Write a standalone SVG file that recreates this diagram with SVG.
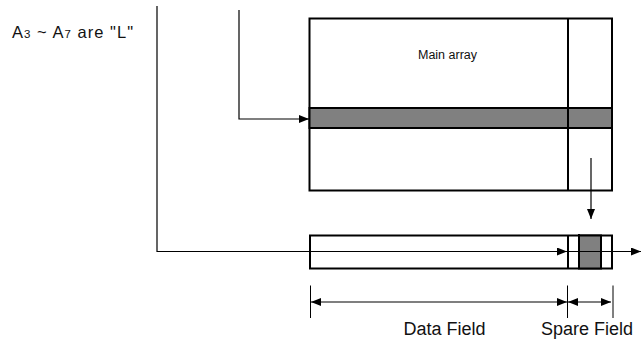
<svg xmlns="http://www.w3.org/2000/svg" width="642" height="343" viewBox="0 0 642 343">
<defs>
<marker id="ah" viewBox="0 0 10 8" refX="10" refY="4" markerWidth="10" markerHeight="8" markerUnits="userSpaceOnUse" orient="auto-start-reverse">
<path d="M0,0 L10,4 L0,8 Z" fill="#000"/>
</marker>
</defs>
<style>
.box{fill:#fff;stroke:#000;stroke-width:2}
.band{fill:#808080;stroke:#000;stroke-width:2}
.div{stroke:#000;stroke-width:2;fill:none}
.conn{stroke:#000;stroke-width:1.2;fill:none}
.tick{stroke:#000;stroke-width:1;fill:none}
.t{font-family:"Liberation Sans",Arial,sans-serif;fill:#111}
</style>
<rect width="642" height="343" fill="#fff"/>
<text class="t" x="12" y="38" font-size="16.5" textLength="121" lengthAdjust="spacing">A<tspan font-size="11.5">3</tspan> ~ A<tspan font-size="11.5">7</tspan> are "L"</text>
<g id="main-array">
<rect class="box" x="309.5" y="18.5" width="302.5" height="172"/>
<rect class="band" x="309.5" y="108" width="302.5" height="20"/>
<line class="div" x1="568" y1="18.5" x2="568" y2="190.5"/>
<text class="t" x="447.5" y="58.5" font-size="12.5" text-anchor="middle">Main array</text>
</g>
<g id="page-buffer">
<rect class="box" x="310" y="235.5" width="302" height="33"/>
<rect class="band" x="579" y="235.5" width="22" height="33"/>
<line class="div" x1="568" y1="235.5" x2="568" y2="268.5"/>
<line class="div" x1="579" y1="234" x2="579" y2="236"/>
</g>
<g id="connectors">
<polyline class="conn" points="239,10 239,119 309,119" marker-end="url(#ah)"/>
<polyline class="conn" points="157,6 157,251.5 567,251.5" marker-end="url(#ah)"/>
<line class="conn" x1="568" y1="251.5" x2="641" y2="251.5" marker-end="url(#ah)"/>
<line class="conn" x1="591" y1="158" x2="591" y2="219" marker-end="url(#ah)"/>
</g>
<g id="dimensions">
<line class="tick" x1="310.5" y1="285.5" x2="310.5" y2="318"/>
<line class="tick" x1="567.5" y1="285.5" x2="567.5" y2="318"/>
<line class="tick" x1="613" y1="285.5" x2="613" y2="318"/>
<line class="conn" x1="311" y1="302" x2="567" y2="302" marker-start="url(#ah)" marker-end="url(#ah)"/>
<line class="conn" x1="568" y1="302" x2="611" y2="302" marker-start="url(#ah)" marker-end="url(#ah)"/>
<text class="t" x="444.5" y="335" font-size="18" text-anchor="middle">Data Field</text>
<text class="t" x="587" y="335" font-size="18" text-anchor="middle">Spare Field</text>
</g>
</svg>
